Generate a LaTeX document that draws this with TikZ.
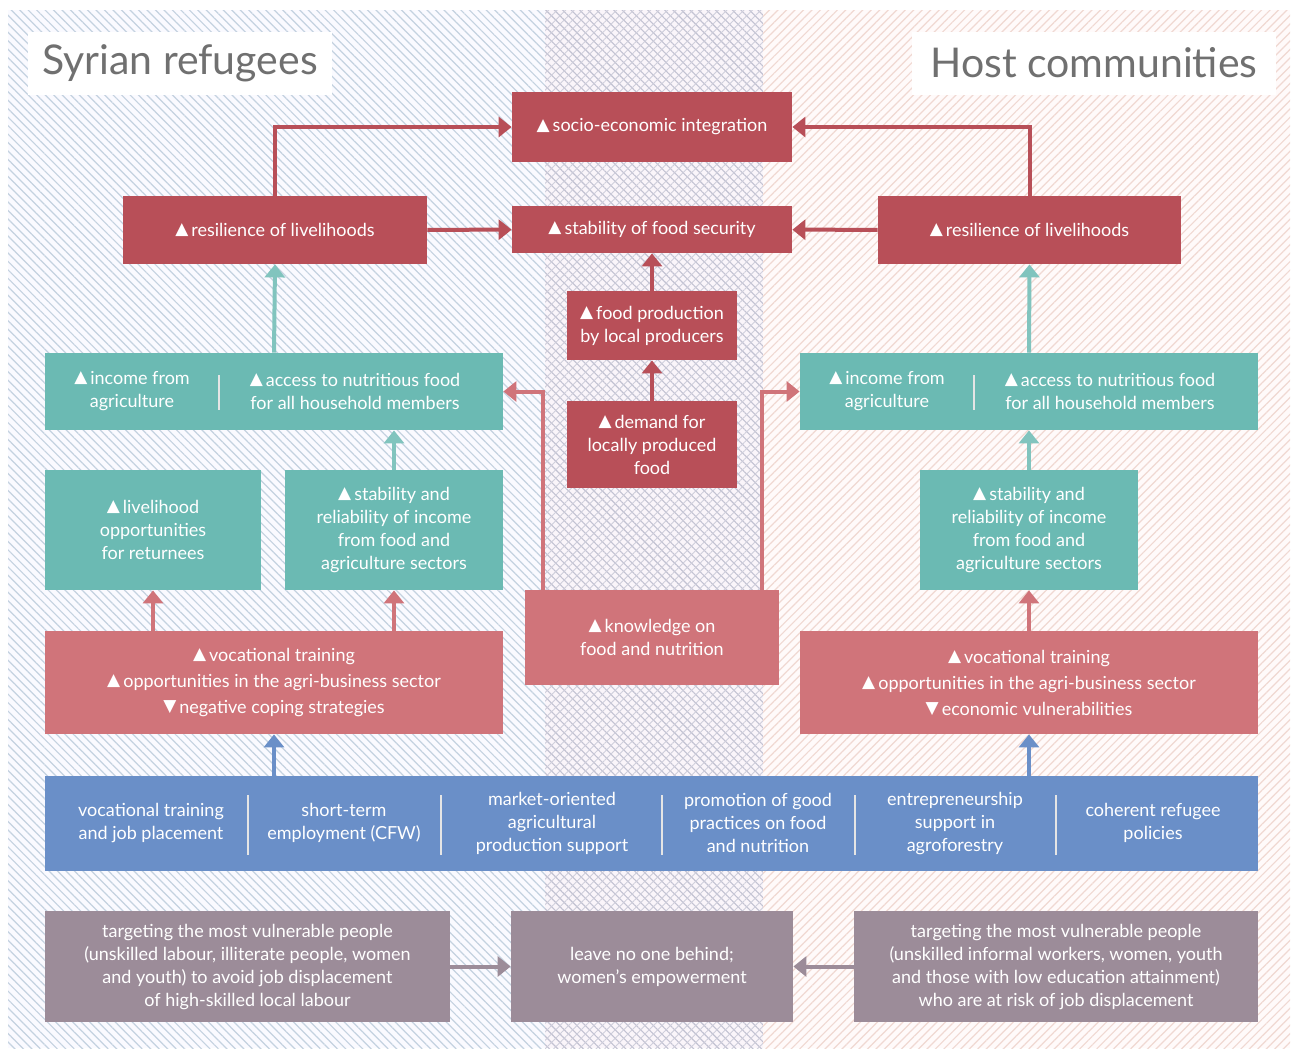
\documentclass[tikz,border=0pt]{standalone}
\usepackage{fontspec}
\setmainfont{Lato}
\newfontfamily\symf{DejaVu Sans}
\usetikzlibrary{arrows.meta,positioning,patterns.meta}
\definecolor{fsred}{HTML}{B84F58}
\definecolor{fsrose}{HTML}{D0747A}
\definecolor{fsteal}{HTML}{6BBAB3}
\definecolor{fsblue}{HTML}{6A8FC8}
\definecolor{fsgray}{HTML}{9C8C99}
\definecolor{hatchB}{HTML}{C4D2E0}
\definecolor{hatchM}{HTML}{C2C2D2}
\definecolor{hatchR}{HTML}{F0D8D2}
\definecolor{titlegray}{HTML}{707070}
\newcommand{\up}{\raisebox{0.2ex}{\symf\fontsize{8.5}{8.5}\selectfont ▲}\,}
\newcommand{\dn}{\raisebox{0.2ex}{\symf\fontsize{8.5}{8.5}\selectfont ▼}\,}

\begin{document}
\begin{tikzpicture}[
        x=0.5pt, y=-0.5pt,
        ->,
        >={Triangle[width=10pt,length=6.5pt]},
        box/.style = {rectangle, inner sep=0pt, align=center, text=white,
                      font=\fontsize{9}{11.5}\selectfont},
        redbox/.style = {box, fill=fsred},
        rosebox/.style = {box, fill=fsrose},
        tealbox/.style = {box, fill=fsteal},
        bluebox/.style = {box, fill=fsblue},
        graybox/.style = {box, fill=fsgray},
        titlebox/.style = {rectangle, fill=white, text=titlegray, inner sep=0pt,
                           font=\fontsize{20.5}{24}\selectfont},
        lbl/.style = {align=center, text=white, inner sep=0pt,
                      font=\fontsize{9}{11.5}\selectfont},
        sep/.style = {-, white!80!gray, line width=0.6pt},
        redarr/.style = {fsred, line width=2pt},
        rosearr/.style = {fsrose, line width=2pt},
        tealarr/.style = {fsteal!85!white, line width=2pt},
        bluearr/.style = {fsblue, line width=2pt},
        grayarr/.style = {fsgray, line width=2pt}]

    \useasboundingbox (0,0) rectangle (1296,1051);
    \fill[white] (0,0) rectangle (1296,1051);

    % hatched background
    \fill[blue!2] (8,10) rectangle (545,1048);
    \fill[pattern={Lines[angle=135,distance=3pt,line width=0.6pt]}, pattern color=hatchB]
        (8,10) rectangle (545,1048);
    \fill[violet!4] (545,10) rectangle (763,1048);
    \fill[pattern={Lines[angle=135,distance=3pt,line width=0.55pt]}, pattern color=hatchM]
        (545,10) rectangle (763,1048);
    \fill[pattern={Lines[angle=45,distance=3pt,line width=0.45pt]}, pattern color=hatchM!80!white]
        (545,10) rectangle (763,1048);
    \fill[red!2] (763,10) rectangle (1290,1048);
    \fill[pattern={Lines[angle=45,distance=3pt,line width=0.6pt]}, pattern color=hatchR]
        (763,10) rectangle (1290,1048);

    \node[titlebox, minimum width=152pt, minimum height=31.5pt] (titleL) at (180,63) {Syrian refugees};
    \node[titlebox, minimum width=182pt, minimum height=31.5pt] (titleR) at (1094,63) {Host communities};

    \node[redbox, minimum width=140pt, minimum height=35pt] (socio) at (652,127) {\up socio-economic integration};
    \node[redbox, minimum width=140pt, minimum height=23.5pt] (stabfood) at (652,229.5) {\up stability of food security};
    \node[redbox, minimum width=152pt, minimum height=34pt] (resL) at (275,230) {\up resilience of livelihoods};
    \node[redbox, minimum width=151.5pt, minimum height=34pt] (resR) at (1029.5,230) {\up resilience of livelihoods};
    \node[redbox, minimum width=85pt, minimum height=34.5pt] (foodprod) at (652,325.5) {\up food production\\by local producers};
    \node[redbox, minimum width=85pt, minimum height=43.5pt] (demand) at (652,444.5) {\up demand for\\locally produced\\food};

    \node[tealbox, minimum width=229pt, minimum height=38.5pt] (tealL) at (274,391.5) {};
    \node[lbl] (incL) at (132,391) {\up income from\\agriculture};
    \node[lbl] (accL) at (355,391) {\up access to nutritious food\\for all household members};
    \draw[sep] (219,375) -- (219,410);
    \node[tealbox, minimum width=229pt, minimum height=38.5pt] (tealR) at (1029,391.5) {};
    \node[lbl] (incR) at (887,391) {\up income from\\agriculture};
    \node[lbl] (accR) at (1110,391) {\up access to nutritious food\\for all household members};
    \draw[sep] (974,375) -- (974,410);

    \node[tealbox, minimum width=108pt, minimum height=60pt] (liveL) at (153,530) {\up livelihood\\opportunities\\for returnees};
    \node[tealbox, minimum width=109pt, minimum height=60pt] (stabL) at (394,530) {\up stability and\\reliability of income\\from food and\\agriculture sectors};
    \node[tealbox, minimum width=109pt, minimum height=60pt] (stabR) at (1029,530) {\up stability and\\reliability of income\\from food and\\agriculture sectors};

    \node[rosebox, minimum width=229pt, minimum height=51.5pt, font=\fontsize{9}{13}\selectfont] (vocL) at (274,682.5) {\up vocational training\\\up opportunities in the agri-business sector\\\dn negative coping strategies};
    \node[rosebox, minimum width=229pt, minimum height=51.5pt, font=\fontsize{9}{13}\selectfont] (vocR) at (1029,682.5) {\up vocational training\\\up opportunities in the agri-business sector\\\dn economic vulnerabilities};
    \node[rosebox, minimum width=127pt, minimum height=47.5pt] (know) at (652,637.5) {\up knowledge on\\food and nutrition};

    \node[bluebox, minimum width=606.5pt, minimum height=47.5pt] (act) at (651.5,823.5) {};
    \foreach \x/\t [count=\i] in {151/{vocational training\\and job placement},
                                  344/{short-term\\employment (CFW)},
                                  552/{market-oriented\\agricultural\\production support},
                                  758/{promotion of good\\practices on food\\and nutrition},
                                  955/{entrepreneurship\\support in\\agroforestry},
                                  1153/{coherent refugee\\policies}}
        \node[lbl] (act\i) at (\x,823) {\t};
    \foreach \x in {248,441,662,855,1056}
        \draw[sep] (\x,795) -- (\x,855);

    \node[graybox, minimum width=202.5pt, minimum height=55.5pt] (tgtL) at (247.5,966.5) {targeting the most vulnerable people\\(unskilled labour, illiterate people, women\\and youth) to avoid job displacement\\of high-skilled local labour};
    \node[graybox, minimum width=141pt, minimum height=55.5pt] (noone) at (652,966.5) {leave no one behind;\\women's empowerment};
    \node[graybox, minimum width=202pt, minimum height=55.5pt] (tgtR) at (1056,966.5) {targeting the most vulnerable people\\(unskilled informal workers, women, youth\\and those with low education attainment)\\who are at risk of job displacement};

    \draw[redarr] (resL.north) |- (socio.west);
    \draw[redarr] (resR.north) |- (socio.east);
    \path (resL) edge [redarr] (stabfood)
        (resR) edge [redarr] (stabfood)
        (foodprod) edge [redarr] (stabfood)
        (demand) edge [redarr] (foodprod);

    \path (tealL.north) edge [tealarr] (resL.south)
        (tealR.north) edge [tealarr] (resR.south)
        (stabL.north) edge [tealarr] (stabL.north |- tealL.south)
        (stabR.north) edge [tealarr] (tealR.south);

    \path (vocL.north -| liveL) edge [rosearr] (liveL.south)
        (vocL.north -| stabL) edge [rosearr] (stabL.south)
        (vocR.north -| stabR) edge [rosearr] (stabR.south);
    \draw[rosearr] ([xshift=9pt]know.north west) |- (tealL.east);
    \draw[rosearr] ([xshift=-8.5pt]know.north east) |- (tealR.west);

    \path (act.north -| vocL) edge [bluearr] (vocL.south)
        (act.north -| vocR) edge [bluearr] (vocR.south);

    \path (tgtL) edge [grayarr] (noone)
        (tgtR) edge [grayarr] (noone);

\end{tikzpicture}
\end{document}
